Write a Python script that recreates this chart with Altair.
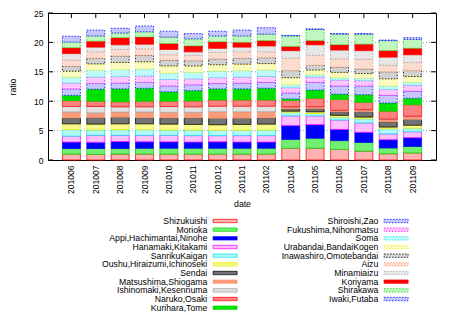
import altair as alt
import pandas as pd

dates = ["201006", "201007", "201008", "201009", "201010", "201011", "201012",
         "201101", "201102", "201104", "201105", "201106", "201107", "201108", "201109"]

series_names = ["Shizukuishi", "Morioka", "Appi,Hachimantai,Ninohe", "Hanamaki,Kitakami",
                "SanrikuKaigan", "Oushu,Hiraizumi,Ichinoseki", "Sendai", "Matsushima,Shiogama",
                "Ishinomaki,Kesennuma", "Naruko,Osaki", "Kurihara,Tome", "Shiroishi,Zao",
                "Fukushima,Nihonmatsu", "Soma", "Urabandai,BandaiKogen", "Inawashiro,Omotebandai",
                "Aizu", "Minamiaizu", "Koriyama", "Shirakawa", "Iwaki,Futaba"]

# values per month, in series order (bottom to top)
v201006 = [1.0, 0.95, 1.1, 1.0, 1.1, 1.0, 1.0, 1.0, 0.95, 1.0, 0.9, 1.1, 1.0, 1.0, 1.0, 0.85, 1.05, 1.1, 1.0, 0.95, 1.0]
v201007 = [0.95, 1.0, 1.05, 1.2, 0.9, 1.0, 1.1, 0.8, 1.1, 0.9, 2.05, 0.95, 1.1, 1.15, 1.1, 0.95, 1.1, 0.8, 1.0, 0.9, 1.0]
v201008 = [1.0, 0.95, 1.2, 1.05, 0.95, 1.0, 1.1, 0.9, 0.9, 0.85, 2.2, 1.0, 1.1, 1.2, 1.2, 1.1, 1.1, 0.8, 1.2, 0.8, 0.8]
v201009 = [1.0, 1.0, 1.1, 1.1, 0.95, 1.0, 1.05, 0.95, 0.9, 0.95, 2.2, 1.0, 1.1, 1.2, 1.2, 1.1, 1.1, 0.8, 1.2, 0.9, 1.0]
v201010 = [1.0, 1.0, 1.1, 1.1, 0.9, 1.0, 1.05, 0.95, 1.0, 0.9, 1.6, 1.0, 1.1, 1.1, 1.2, 1.0, 0.9, 0.9, 1.0, 1.1, 1.0]
v201011 = [1.0, 1.0, 1.05, 1.1, 0.95, 0.95, 1.1, 0.95, 0.95, 1.0, 1.75, 1.0, 1.0, 1.1, 1.1, 0.9, 0.9, 0.6, 1.0, 1.2, 0.9]
v201012 = [1.0, 1.0, 1.1, 1.05, 0.9, 0.95, 1.1, 1.1, 0.95, 1.05, 1.9, 0.9, 1.0, 1.1, 1.1, 1.0, 1.1, 0.7, 1.1, 1.0, 0.8]
v201101 = [1.0, 1.0, 1.05, 1.1, 0.9, 1.0, 1.05, 1.1, 0.95, 1.05, 1.9, 1.0, 1.0, 1.1, 1.1, 1.0, 1.1, 0.8, 0.8, 1.1, 1.0]
v201102 = [1.0, 1.0, 1.05, 1.1, 0.95, 1.0, 1.05, 1.05, 0.95, 1.05, 2.0, 1.0, 1.0, 1.1, 1.1, 1.0, 1.0, 1.0, 0.9, 1.1, 1.1]
v201104 = [2.0, 1.5, 2.35, 1.65, 0.6, 0.2, 0.4, 0.3, 0.05, 1.05, 0.3, 1.0, 0.9, 0.5, 1.2, 1.2, 2.1, 1.3, 0.7, 1.8, 0.1]
v201105 = [2.0, 1.7, 2.3, 1.5, 0.4, 0.3, 0.5, 0.3, 0.05, 1.45, 1.4, 1.3, 0.9, 0.4, 0.8, 0.8, 1.7, 1.8, 0.7, 1.9, 0.1]
v201106 = [1.8, 1.5, 1.9, 1.6, 0.5, 0.3, 0.6, 0.2, 0.05, 1.85, 0.9, 1.4, 1.0, 0.4, 0.9, 0.9, 1.4, 1.5, 0.9, 1.8, 0.1]
v201107 = [1.5, 1.5, 1.7, 1.6, 0.7, 0.3, 0.9, 0.3, 0.05, 1.25, 1.3, 1.5, 0.9, 0.4, 0.8, 0.8, 1.6, 1.5, 1.1, 1.7, 0.1]
v201108 = [1.05, 1.0, 1.4, 1.0, 0.85, 0.3, 0.9, 0.4, 0.05, 1.35, 1.4, 1.3, 1.0, 0.6, 1.2, 1.2, 1.1, 1.4, 1.1, 1.7, 0.1]
v201109 = [1.2, 1.1, 1.5, 1.0, 0.6, 0.5, 1.0, 0.5, 0.05, 1.95, 1.1, 1.2, 1.0, 0.5, 1.0, 1.0, 1.4, 1.3, 1.1, 1.5, 0.3]

month_values = [v201006, v201007, v201008, v201009, v201010, v201011, v201012,
                v201101, v201102, v201104, v201105, v201106, v201107, v201108, v201109]

y_ticks = [0, 5, 10, 15, 20, 25]
grid_lines = [5, 10, 15, 20]

# ---- styling (gnuplot-like colour cycle; patterned fills approximated by tints)
FONT = "Liberation Sans"
cycle = ["#ff0000", "#00e000", "#0000ff", "#ff00ff", "#00e8e8", "#f0f000", "#000000", "#fa9a78", "#a0a0a0"]
tint = [0.30, 0.55, 1.0, 0.25, 0.30, 0.45, 0.55, 1.0, 0.30, 0.50, 1.0,
        0.22, 0.22, 0.25, 0.25, 0.18, 0.35, 0.25, 1.0, 0.25, 0.22]
dotted_border = [False] * 11 + [True] * 7 + [False] + [True] * 2


def mix(hexc, t):
    r, g, b = (int(hexc[i:i + 2], 16) for i in (1, 3, 5))
    f = lambda c: int(round(255 * (1 - t) + c * t))
    return "#%02x%02x%02x" % (f(r), f(g), f(b))


strokes = [cycle[i % 9] for i in range(len(series_names))]
fills = [mix(strokes[i], tint[i]) for i in range(len(series_names))]
dashes = [[1.5, 1.5] if d else [1, 0] for d in dotted_border]

rows = []
for d, vals in zip(dates, month_values):
    for i, (s, v) in enumerate(zip(series_names, vals)):
        rows.append({"date": d, "series": s, "idx": i, "value": v})
df = pd.DataFrame(rows)

W, H = 388, 147

fill_scale = alt.Scale(domain=series_names, range=fills)
stroke_scale = alt.Scale(domain=series_names, range=strokes)
dash_scale = alt.Scale(domain=series_names, range=dashes)
y_scale = alt.Scale(domain=[0, 25], nice=False)
x_scale = alt.Scale(domain=dates, paddingInner=0.26, paddingOuter=0.59)

y_axis = alt.Axis(values=y_ticks, title="ratio", grid=False, ticks=False, domain=False,
                  labelOverlap=False, labelPadding=5, titlePadding=16)
x_axis = alt.Axis(title="date", labelAngle=270, ticks=False, domain=False,
                  labelPadding=5, titlePadding=6)

grid = alt.Chart(pd.DataFrame({"g": grid_lines})).mark_rule(
    color="#a0a0a0", strokeDash=[1, 2], strokeWidth=1
).encode(y=alt.Y("g:Q", scale=y_scale, axis=y_axis))

bars = alt.Chart(df).mark_bar(strokeWidth=0.8).encode(
    x=alt.X("date:N", sort=dates, scale=x_scale, axis=x_axis),
    y=alt.Y("value:Q", stack="zero", scale=y_scale, axis=y_axis),
    fill=alt.Fill("series:N", scale=fill_scale, legend=None),
    stroke=alt.Stroke("series:N", scale=stroke_scale, legend=None),
    strokeDash=alt.StrokeDash("series:N", scale=dash_scale, legend=None),
    order=alt.Order("idx:Q", sort="ascending"),
)

tick_df = pd.DataFrame({"t": y_ticks})
left_ticks = alt.Chart(tick_df).mark_rule(color="black").encode(
    y=alt.Y("t:Q", scale=y_scale, axis=y_axis), x=alt.value(0), x2=alt.value(5))
right_ticks = alt.Chart(tick_df).mark_rule(color="black").encode(
    y=alt.Y("t:Q", scale=y_scale, axis=y_axis), x=alt.value(W - 5), x2=alt.value(W))
top_ticks = alt.Chart(pd.DataFrame({"date": dates})).mark_rule(color="black").encode(
    x=alt.X("date:N", sort=dates, scale=x_scale, axis=x_axis), y=alt.value(0), y2=alt.value(5))

main = alt.layer(grid, bars, left_ticks, right_ticks, top_ticks).properties(
    width=W, height=H, view=alt.ViewBackground(stroke="black", strokeWidth=1)
)

# ---- custom legend (two columns, label then swatch)
n_left = 11
leg_df = pd.DataFrame({
    "name": series_names,
    "col": [0 if i < n_left else 1 for i in range(len(series_names))],
    "row": [i if i < n_left else i - n_left for i in range(len(series_names))],
})
lx = alt.X("col:Q", scale=alt.Scale(domain=[0, 1], range=[159.3, 330.3]), axis=None)
ly = alt.Y("row:Q", scale=alt.Scale(domain=[0, 10], range=[0, 86.7]), axis=None)

leg_text = alt.Chart(leg_df).mark_text(
    align="right", baseline="middle", fontSize=8.7, font=FONT, color="black"
).encode(x=lx, y=ly, text="name:N")

swatch_path = "M-1,-0.14L1,-0.14L1,0.14L-1,0.14Z"
leg_sw = alt.Chart(leg_df).mark_point(
    shape=swatch_path, size=576, filled=True, opacity=1, strokeWidth=0.8, xOffset=17.8
).encode(
    x=lx, y=ly,
    fill=alt.Fill("name:N", scale=fill_scale, legend=None),
    stroke=alt.Stroke("name:N", scale=stroke_scale, legend=None),
    strokeDash=alt.StrokeDash("name:N", scale=dash_scale, legend=None),
)

legend = alt.layer(leg_text, leg_sw).properties(
    width=W, height=87, view=alt.ViewBackground(stroke="transparent")
)

chart = alt.vconcat(main, legend, spacing=7).properties(
    padding={"left": 0, "top": 0, "right": 0, "bottom": 0}, background="white"
).configure_axis(
    labelFont=FONT, titleFont=FONT, labelFontSize=8.5, titleFontSize=8.7,
    titleFontWeight="normal", labelColor="black", titleColor="black"
).resolve_scale(fill="independent", stroke="independent", strokeDash="independent")

chart.save("out.html", embed_options={"renderer": "svg", "actions": False})
